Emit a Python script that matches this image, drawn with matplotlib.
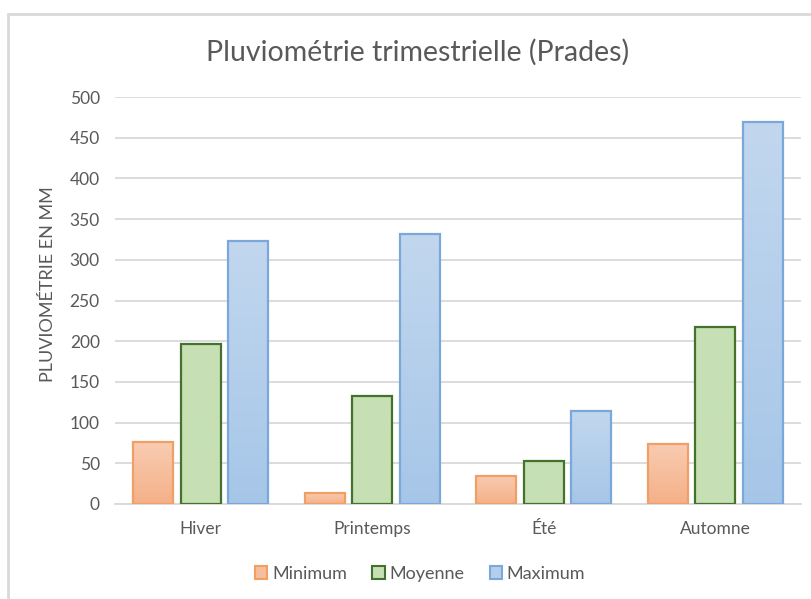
import numpy as np
import matplotlib
matplotlib.use("Agg")
import matplotlib.pyplot as plt
from matplotlib.patches import Patch, Rectangle
from matplotlib.colors import LinearSegmentedColormap

plt.rcParams['font.family'] = ['Lato', 'DejaVu Sans']

categories = ["Hiver", "Printemps", "Été", "Automne"]
series_names = ["Minimum", "Moyenne", "Maximum"]
minimum = [76, 14, 35, 74]
moyenne = [197, 133, 53, 218]
maximum = [323, 332, 114, 469]
yticks = [0, 50, 100, 150, 200, 250, 300, 350, 400, 450, 500]

values = [minimum, moyenne, maximum]
top_colors = ["#F9CCB2", "#C6E0B4", "#C2D7EE"]
bottom_colors = ["#F4B088", "#C6E0B4", "#A6C6E8"]
edge_colors = ["#F0A065", "#44712B", "#7BA8DA"]
legend_face = ["#F6BE9D", "#C6E0B4", "#B4CFEC"]

W, H = 812, 599
fig = plt.figure(figsize=(W / 100, H / 100), dpi=100)
ax = fig.add_axes([115 / W, 1 - 504 / H, 686 / W, 407 / H])

# chart border
fig.add_artist(Rectangle((8 / W, -0.05), 1.2, 1 - 14 / H + 0.05, transform=fig.transFigure,
                         fill=False, edgecolor="#D9D9D9", linewidth=2, clip_on=False))

x = np.arange(len(categories))
bw = 0.233
offsets = [-0.276, 0.0, 0.276]
for i, vals in enumerate(values):
    bars = ax.bar(x + offsets[i], vals, width=bw, facecolor="none",
                  edgecolor=edge_colors[i], linewidth=1.6, zorder=3)
    cmap = LinearSegmentedColormap.from_list("g%d" % i, [bottom_colors[i], top_colors[i]])
    grad = np.linspace(0, 1, 256).reshape(-1, 1)
    for b in bars:
        bx, by = b.get_x(), b.get_y()
        bwid, bh = b.get_width(), b.get_height()
        im = ax.imshow(grad, cmap=cmap, origin="lower", aspect="auto",
                       extent=(bx, bx + bwid, by, by + bh), zorder=2)
        im.set_clip_path(b)

ax.set_xlim(-0.5, 3.5)
ax.set_ylim(0, 500)
ax.set_yticks(yticks)
ax.set_xticks(x)
ax.set_xticklabels(categories)
ax.grid(axis="y", color="#D9D9D9", linewidth=1.3, zorder=0)
ax.set_axisbelow(True)
for s in ["top", "right", "left"]:
    ax.spines[s].set_visible(False)
ax.spines["bottom"].set_color("#D9D9D9")
ax.spines["bottom"].set_linewidth(1.3)
ax.tick_params(axis="both", length=0, colors="#595959", labelsize=12.5)
ax.tick_params(axis="y", pad=11)
ax.tick_params(axis="x", pad=12)

fig.text(48 / W, 1 - 284 / H, "PLUVIOMÉTRIE EN MM", rotation=90, ha="center", va="center",
         color="#595959", fontsize=13)
fig.text(418 / W, 1 - 52 / H, "Pluviométrie trimestrielle (Prades)", ha="center", va="center",
         color="#595959", fontsize=20.5)

handles = [Patch(facecolor=legend_face[i], edgecolor=edge_colors[i], linewidth=1.5)
           for i in range(3)]
fig.legend(handles, series_names, loc="center", bbox_to_anchor=(420 / W, 1 - 574 / H),
           ncol=3, frameon=False, fontsize=13, labelcolor="#595959",
           handlelength=0.7, handleheight=0.7, handletextpad=0.25, columnspacing=1.4)

fig.savefig("out.png", dpi=100, facecolor="white")
